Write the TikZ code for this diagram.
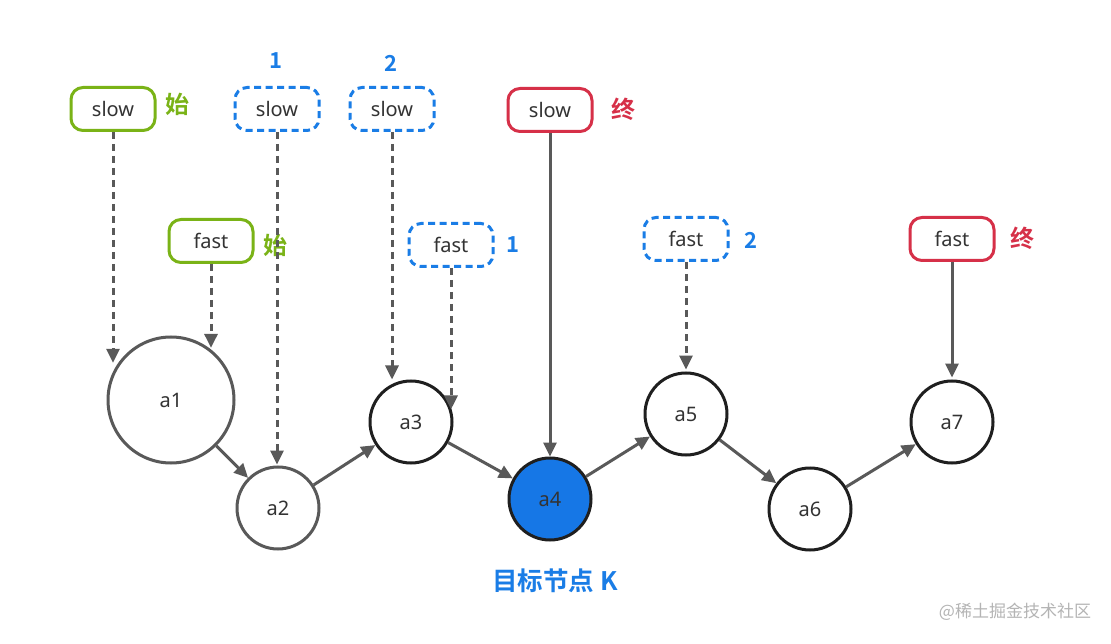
\documentclass[tikz,border=0pt]{standalone}
\usepackage{fontspec}
\setmainfont{Noto Sans}
\newfontfamily\cjk{Noto Sans CJK SC}
\newfontfamily\cjkb{Noto Sans CJK SC Bold}
\usetikzlibrary{arrows.meta}
\definecolor{grn}{HTML}{7AB317}
\definecolor{blu}{HTML}{1A7DE6}
\definecolor{rd}{HTML}{D63048}
\definecolor{lgray}{HTML}{595959}
\definecolor{dgray}{HTML}{1F1F1F}
\definecolor{fillblue}{HTML}{1677E6}
\definecolor{txt}{HTML}{333333}
\definecolor{wm}{HTML}{B4B4B4}
\begin{document}
\begin{tikzpicture}[x=1pt,y=-1pt,
  ptr/.style={rounded corners=12pt, minimum width=84pt, minimum height=43pt, inner sep=0pt,
     line width=3pt, text=txt, font=\fontsize{20}{24}\selectfont},
  gbox/.style={ptr, draw=grn},
  bbox/.style={ptr, draw=blu, dash pattern=on 7pt off 4.5pt},
  rbox/.style={ptr, draw=rd},
  nd/.style={circle, inner sep=0pt, line width=3pt, text=txt, font=\fontsize{20}{24}\selectfont},
  lt/.style={nd, draw=lgray},
  dk/.style={nd, draw=dgray},
  arr/.style={draw=lgray, line width=3pt, -{Triangle[length=14pt,width=13pt]}},
  dsh/.style={arr, dash pattern=on 7pt off 5pt},
  lab/.style={font=\cjkb\fontsize{24}{28}\selectfont, inner sep=0pt},
  num/.style={font=\cjkb\fontsize{22}{26}\selectfont, text=blu, inner sep=0pt}
]
\useasboundingbox (0,0) rectangle (1111,644);
\fill[white] (0,0) rectangle (1111,644);

% list nodes
\node[lt, minimum size=126pt] (a1) at (171,400) {a1};
\node[lt, minimum size=82pt] (a2) at (278,508) {a2};
\node[dk, minimum size=82pt] (a3) at (411,422) {a3};
\node[dk, minimum size=82pt, fill=fillblue] (a4) at (550,499) {a4};
\node[dk, minimum size=82pt] (a5) at (686,414) {a5};
\node[dk, minimum size=82pt] (a6) at (810,509) {a6};
\node[dk, minimum size=82pt] (a7) at (952,422) {a7};

% pointer boxes
\node[gbox] (s0) at (113,109) {slow};
\node[bbox] (s1) at (277,109) {slow};
\node[bbox] (s2) at (392,109) {slow};
\node[rbox] (s3) at (550,110) {slow};
\node[gbox] (f0) at (211,241) {fast};
\node[bbox] (f1) at (451,245) {fast};
\node[bbox] (f2) at (686,239) {fast};
\node[rbox] (f3) at (952,239) {fast};

% labels
\node[lab, text=grn] (l0) at (177,104) {始};
\node[lab, text=grn] (l1) at (275,245) {始};
\node[num] (n1) at (276,61) {1};
\node[num] (n2) at (391,63) {2};
\node[lab, text=rd] (l2) at (623,109) {终};
\node[lab, text=rd] (l3) at (1022,238) {终};
\node[num] (n3) at (513,245) {1};
\node[num] (n4) at (751,240) {2};
\node[font=\cjkb\fontsize{25.5}{30}\selectfont, text=blu, inner sep=0pt] (k) at (555,581) {目标节点 K};
\node[font=\cjk\fontsize{17}{20}\selectfont, text=wm, inner sep=0pt] (w) at (1015,612) {@稀土掘金技术社区};

% chain
\draw[arr] (a1) -- (a2);
\draw[arr] (a2) -- (a3);
\draw[arr] (a3) -- (a4);
\draw[arr] (a4) -- (a5);
\draw[arr] (a5) -- (a6);
\draw[arr] (a6) -- (a7);

% pointers
\draw[dsh, shorten >=12pt] (s0.south) -- (s0.south |- a1.157);
\draw[dsh, shorten >=2pt] (f0.south) -- (f0.south |- a1.51);
\draw[dsh, shorten >=1pt] (s1.south) -- (s1.south |- a2.north);
\draw[dsh, shorten >=5pt] (s2.south) -- (s2.south |- a3.118);
\draw[dsh, shorten >=3pt] (f1.south) -- (f1.south |- a3.13);
\draw[arr] (s3.south) -- (s3.south |- a4.north);
\draw[dsh, shorten >=2pt] (f2.south) -- (f2.south |- a5.north);
\draw[arr, shorten >=2pt] (f3.south) -- (f3.south |- a7.north);
\end{tikzpicture}
\end{document}
